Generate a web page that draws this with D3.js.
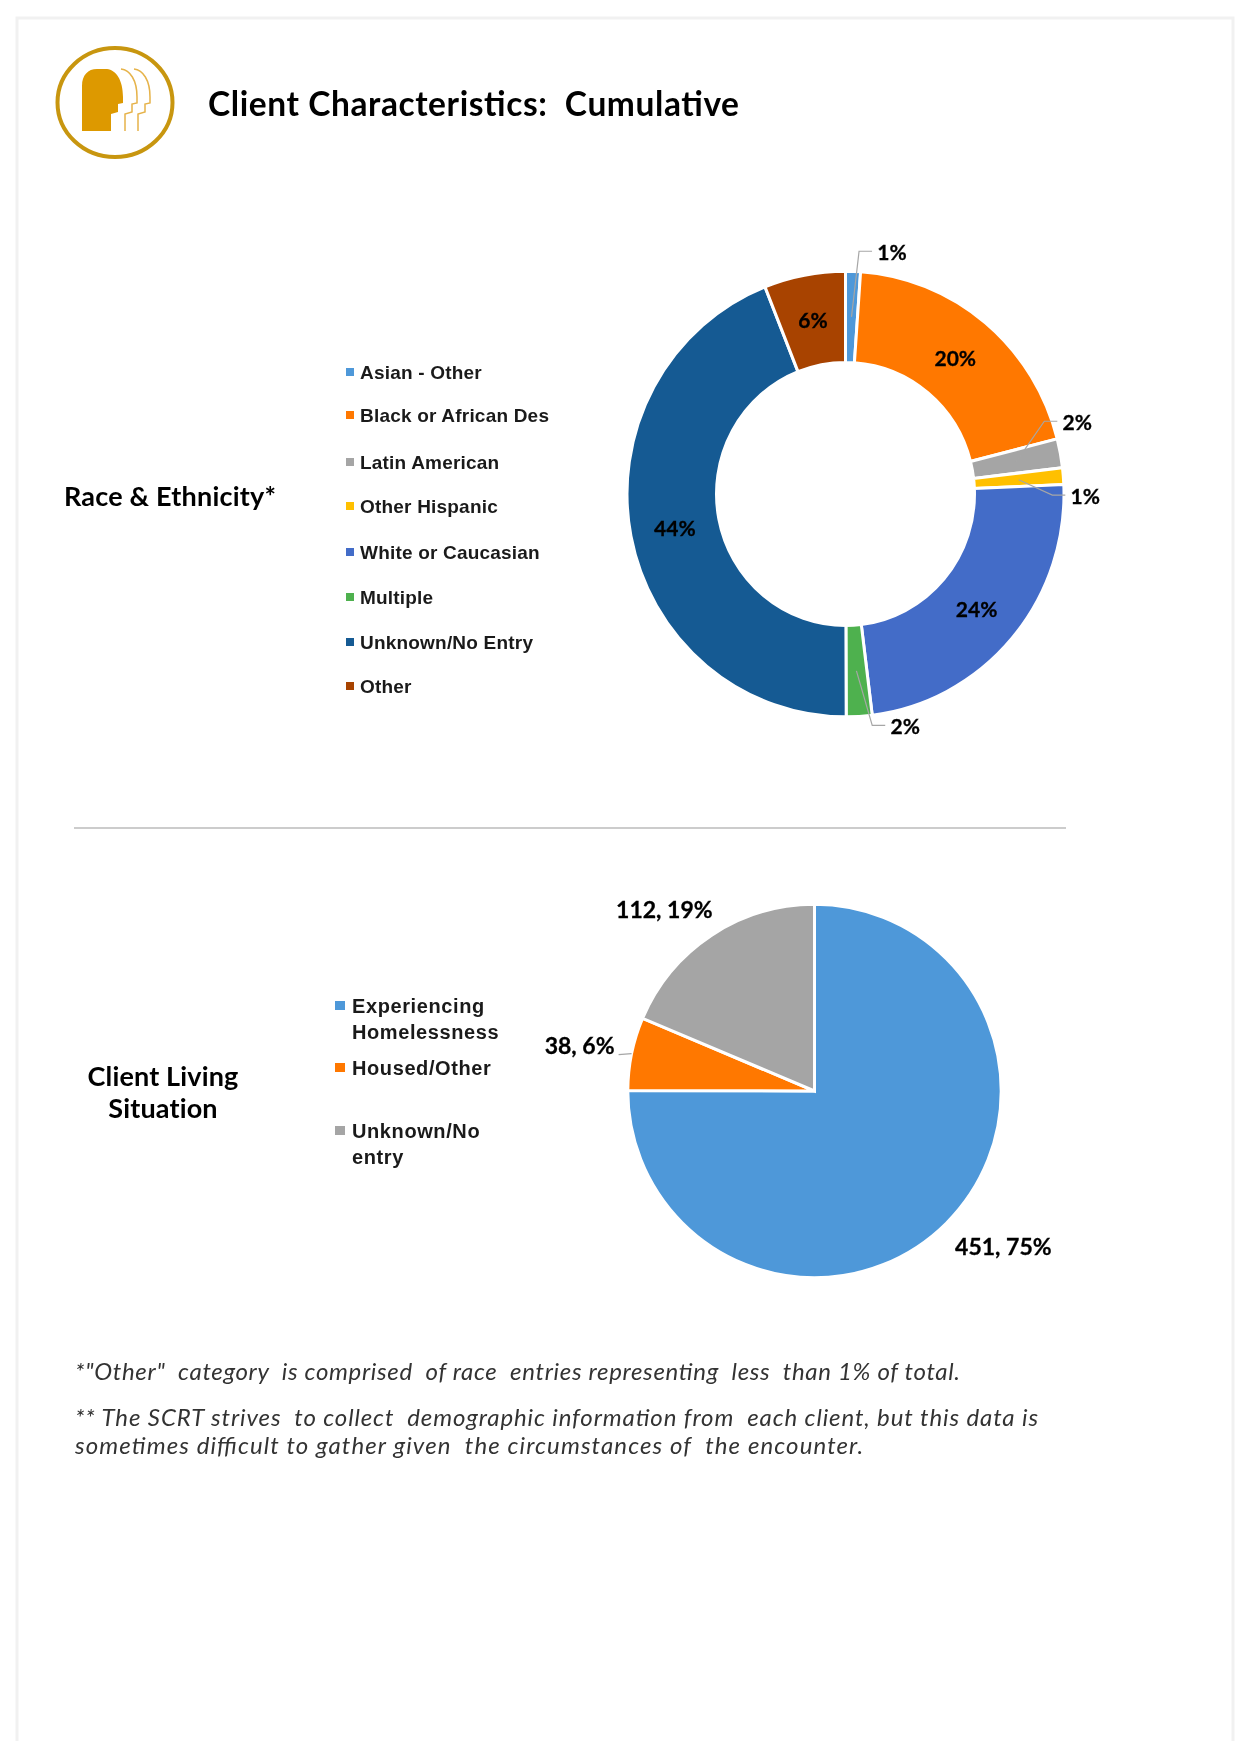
<!DOCTYPE html>
<html>
<head>
<meta charset="utf-8">
<script src="https://cdn.jsdelivr.net/npm/d3@7/dist/d3.min.js"></script>
<style>
html, body { margin: 0; padding: 0; background: #fff; }
svg { display: block; filter: blur(0.55px); }
</style>
</head>
<body>
<div id="page"></div>
<script>
const width = 1244;
const height = 1741;

// Race & Ethnicity donut
const raceCategories = ["Asian - Other", "Black or African Des", "Latin American", "Other Hispanic", "White or Caucasian", "Multiple", "Unknown/No Entry", "Other"];
const raceValues = [1.1, 19.9, 2.1, 1.2, 23.7, 1.9, 44, 6];
const raceColors = ["#4e98d9", "#ff7800", "#a5a5a5", "#ffc000", "#436cc8", "#4eb14e", "#155a93", "#a84300"];
const raceLegendY = [372, 415, 462, 506, 552, 597, 642, 686];

// Client Living Situation pie
const livingCategories = [["Experiencing", "Homelessness"], ["Housed/Other"], ["Unknown/No", "entry"]];
const livingValues = [451, 38, 112];
const livingPercents = [75, 6, 19];
const livingColors = ["#4e98d9", "#ff7800", "#a5a5a5"];
const livingLegendY = [1006, 1068, 1131];

// label offset from the slice's outer edge, only for the slices labelled outside
const raceOutside = { 0: [39, -20], 2: [17, -32], 3: [22, 19], 5: [46, 9] };
const livingLabelOffset = [[57, 24], [-52, -8], [-47, -26]];

const svg = d3.select("#page").append("svg")
    .attr("width", width)
    .attr("height", height);

const sans = "'Liberation Sans', Arial, sans-serif";
const gothic = "Lato, 'Open Sans', sans-serif";

// page sheet
svg.append("rect")
    .attr("x", 17).attr("y", 18)
    .attr("width", 1216).attr("height", 1740)
    .attr("fill", "#fff")
    .attr("stroke", "#f1f1f1")
    .attr("stroke-width", 3);

// logo
const logo = svg.append("g");
logo.append("ellipse")
    .attr("cx", 115).attr("cy", 102.5)
    .attr("rx", 57.5).attr("ry", 54.5)
    .attr("fill", "none")
    .attr("stroke", "#c8960f")
    .attr("stroke-width", 4);
logo.append("path")
    .attr("d", "M82,131 L82,86 C82,75 88,69 97,69 L107,69 C116,70 123,80 123,97 L123,103 L118,104 L118,112 L111,114 L111,131 Z")
    .attr("fill", "#dd9900");
[14, 27].forEach(function(dx) {
    logo.append("path")
        .attr("d", "M107,69 C116,70 123,80 123,97 L123,103 L118,104 L118,112 L111,114 L111,131")
        .attr("transform", `translate(${dx},0)`)
        .attr("fill", "none")
        .attr("stroke", "#e6b34a")
        .attr("stroke-width", 1.5);
});

svg.append("text")
    .attr("x", 208).attr("y", 116)
    .attr("font-family", gothic)
    .attr("font-weight", 700)
    .attr("font-size", 33.5)
    .attr("textLength", 531)
    .attr("xml:space", "preserve")
    .attr("fill", "#000")
    .text("Client Characteristics:  Cumulative");

svg.append("text")
    .attr("x", 64).attr("y", 506)
    .attr("font-family", gothic)
    .attr("font-weight", 700)
    .attr("font-size", 27)
    .attr("letter-spacing", 0.2)
    .attr("fill", "#000")
    .text("Race & Ethnicity*");

svg.selectAll(".livingTitle")
    .data(["Client Living", "Situation"])
    .enter()
    .append("text")
    .attr("class", "livingTitle")
    .attr("x", 163)
    .attr("y", (d, i) => 1086 + i * 32)
    .attr("text-anchor", "middle")
    .attr("font-family", gothic)
    .attr("font-weight", 700)
    .attr("font-size", 27)
    .attr("letter-spacing", 0.15)
    .attr("fill", "#000")
    .text(d => d);

// divider
svg.append("line")
    .attr("x1", 74).attr("x2", 1066)
    .attr("y1", 828).attr("y2", 828)
    .attr("stroke", "#cccccc")
    .attr("stroke-width", 2);

// race legend
const raceLegend = svg.append("g");
raceCategories.forEach(function(name, i) {
    raceLegend.append("rect")
        .attr("x", 346).attr("y", raceLegendY[i] - 4)
        .attr("width", 8).attr("height", 8)
        .attr("fill", raceColors[i]);
    raceLegend.append("text")
        .attr("x", 360).attr("y", raceLegendY[i] + 7)
        .attr("font-family", sans)
        .attr("font-weight", 700)
        .attr("font-size", 19)
        .attr("letter-spacing", 0.2)
        .attr("fill", "#1a1a1a")
        .text(name);
});

// donut, the source is very slightly taller than wide
const rx = 218.5;
const innerR = 129;
const cx = 845.5;
const cy = 494;
const yStretch = 1.02;

const racePie = d3.pie().sort(null)(raceValues);
const raceArc = d3.arc().innerRadius(innerR).outerRadius(rx);
const raceMid = d3.arc().innerRadius(rx).outerRadius(rx);

const donut = svg.append("g")
    .attr("transform", `translate(${cx},${cy}) scale(1,${yStretch})`);

donut.selectAll("path")
    .data(racePie)
    .enter()
    .append("path")
    .attr("d", raceArc)
    .attr("fill", (d, i) => raceColors[i])
    .attr("stroke", "#fff")
    .attr("stroke-width", 3);

racePie.forEach(function(d, i) {
    const c = raceArc.centroid(d);
    const px = cx + c[0];
    const py = cy + c[1] * yStretch;
    var lx = px;
    var ly = py;
    const off = raceOutside[i];
    if (off) {
        const edge = raceMid.centroid(d);
        lx = cx + edge[0] + off[0];
        ly = cy + edge[1] * yStretch + off[1];
        // leader from the middle of the slice to an elbow beside the label
        svg.append("path")
            .attr("d", d3.line()([[px, py], [lx - 33, ly], [lx - 20, ly]]))
            .attr("fill", "none")
            .attr("stroke", "#a6a6a6")
            .attr("stroke-width", 1.2);
    }
    svg.append("text")
        .attr("x", i == 1 || i == 4 ? lx - 1.5 : lx).attr("y", ly)
        .attr("dy", "0.4em")
        .attr("text-anchor", "middle")
        .attr("font-family", gothic)
        .attr("font-weight", 700)
        .attr("font-size", 21)
        .attr("stroke", "#000")
        .attr("stroke-width", 0.3)
        .attr("fill", "#000")
        .text(d3.format(".0f")(raceValues[i]) + "%");
});

// living situation legend
const livingLegend = svg.append("g");
livingCategories.forEach(function(lines, i) {
    livingLegend.append("rect")
        .attr("x", 335).attr("y", livingLegendY[i] - 5)
        .attr("width", 10).attr("height", 9)
        .attr("fill", livingColors[i]);
    lines.forEach(function(line, j) {
        livingLegend.append("text")
            .attr("x", 352).attr("y", livingLegendY[i] + 7 + j * 26)
            .attr("font-family", sans)
            .attr("font-weight", 700)
            .attr("font-size", 20)
            .attr("letter-spacing", 0.6)
            .attr("fill", "#1a1a1a")
            .text(line);
    });
});

// pie
const pieR = 186.7;
const px2 = 814.5;
const py2 = 1091;
const livingPie = d3.pie().sort(null)(livingValues);
const livingArc = d3.arc().innerRadius(0).outerRadius(pieR);
const livingEdge = d3.arc().innerRadius(pieR).outerRadius(pieR);

const pie = svg.append("g")
    .attr("transform", `translate(${px2},${py2})`);

pie.selectAll("path")
    .data(livingPie)
    .enter()
    .append("path")
    .attr("d", livingArc)
    .attr("fill", (d, i) => livingColors[i])
    .attr("stroke", "#fff")
    .attr("stroke-width", 3);

livingPie.forEach(function(d, i) {
    const edge = livingEdge.centroid(d);
    const lx = edge[0] + livingLabelOffset[i][0];
    const ly = edge[1] + livingLabelOffset[i][1];
    if (i == 1) {
        pie.append("line")
            .attr("x1", edge[0]).attr("y1", edge[1])
            .attr("x2", edge[0] - 13).attr("y2", edge[1] + 1)
            .attr("stroke", "#a6a6a6")
            .attr("stroke-width", 1.2);
    }
    pie.append("text")
        .attr("x", lx).attr("y", ly)
        .attr("dy", "0.36em")
        .attr("text-anchor", "middle")
        .attr("font-family", gothic)
        .attr("font-weight", 700)
        .attr("font-size", 23)
        .attr("stroke", "#000")
        .attr("stroke-width", 0.3)
        .attr("fill", "#000")
        .text(livingValues[i] + ", " + livingPercents[i] + "%");
});

// footnotes
const notes = [
    "*\"Other\"  category  is comprised  of race  entries representing  less  than 1% of total.",
    "** The SCRT strives  to collect  demographic information from  each client, but this data is",
    "sometimes difficult to gather given  the circumstances of  the encounter."
];
const noteY = [1380, 1426, 1454];
const noteLengths = [885, 963, 788];
svg.selectAll(".note")
    .data(notes)
    .enter()
    .append("text")
    .attr("class", "note")
    .attr("x", 75)
    .attr("y", (d, i) => noteY[i])
    .attr("font-family", gothic)
    .attr("font-style", "italic")
    .attr("font-size", 24)
    .attr("textLength", (d, i) => noteLengths[i])
    .attr("xml:space", "preserve")
    .attr("fill", "#333")
    .text(d => d);
</script>
</body>
</html>
